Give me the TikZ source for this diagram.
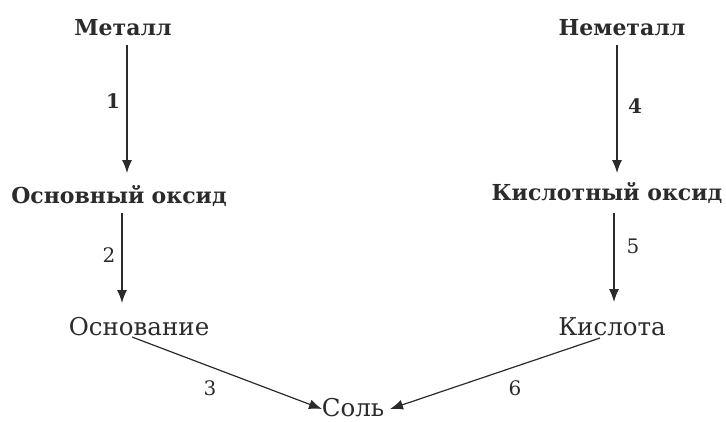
\documentclass[tikz,border=0pt]{standalone}
\usepackage{fontspec}
\setmainfont{DejaVu Serif}
\usetikzlibrary{arrows.meta}
\definecolor{ink}{HTML}{2B2B2B}
\begin{document}
\begin{tikzpicture}[x=1pt,y=-1pt,
  lbl/.style={inner sep=0pt,anchor=base,text=ink,font=\fontsize{22}{26}\selectfont\bfseries},
  lblr/.style={inner sep=0pt,anchor=base,text=ink,font=\fontsize{24.5}{29}\selectfont},
  num/.style={inner sep=0pt,text=ink,font=\fontsize{20}{24}\selectfont},
  numb/.style={num,font=\fontsize{20}{24}\selectfont\bfseries},
  arr/.style={draw=ink,line width=1.2pt,-{Latex[length=13pt,width=10pt]}}]
\useasboundingbox (0,0) rectangle (726,421);
\node[lbl] (met) at (123,35) {Металл};
\node[lbl] (nem) at (622,35) {Неметалл};
\node[lbl] (osn) at (119,203) {Основный\,\,оксид};
\node[lbl] (kox) at (607,200) {Кислотный оксид};
\node[lblr] (osv) at (139,335) {Основание};
\node[lblr] (kis) at (612,335) {Кислота};
\node[lblr] (sol) at (353,416) {Соль};
\coordinate (a1s) at (127,45); \coordinate (a1e) at (127,173);
\coordinate (a4s) at (617,45); \coordinate (a4e) at (617,173);
\coordinate (a2s) at (122,213); \coordinate (a2e) at (122,303);
\coordinate (a5s) at (614,213); \coordinate (a5e) at (614,302);
\coordinate (a3s) at (132,337); \coordinate (a3e) at (322,409);
\coordinate (a6s) at (600,338); \coordinate (a6e) at (390,409);
\draw[arr] (a1s) -- (a1e);
\draw[arr] (a4s) -- (a4e);
\draw[arr] (a2s) -- (a2e);
\draw[arr] (a5s) -- (a5e);
\draw[arr] (a3s) -- (a3e);
\draw[arr] (a6s) -- (a6e);
\node[numb] (n1) at (113,101) {1};
\node[numb] (n4) at (635,106) {4};
\node[num] (n2) at (109,255) {2};
\node[num] (n5) at (633,246) {5};
\node[num] (n3) at (210,388) {3};
\node[num] (n6) at (515,388) {6};
\end{tikzpicture}
\end{document}
